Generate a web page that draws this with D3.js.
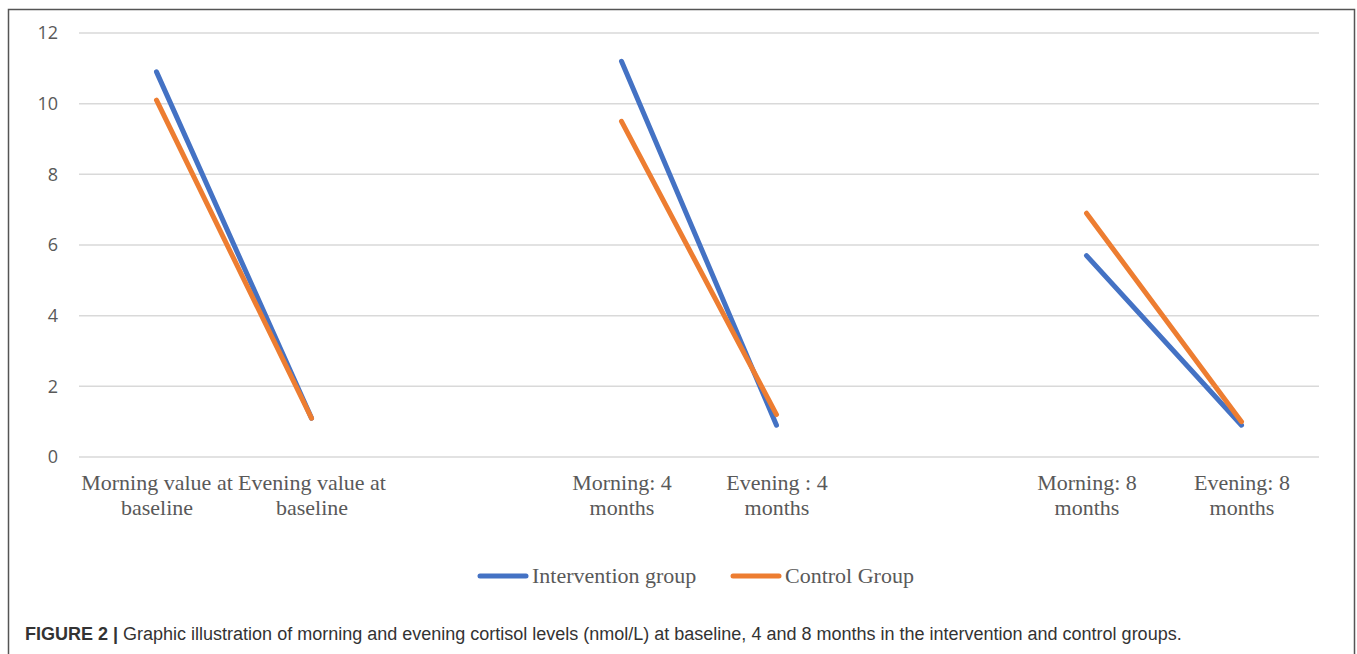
<!DOCTYPE html>
<html>
<head>
<meta charset="utf-8">
<script src="https://cdn.jsdelivr.net/npm/d3@7"></script>
<style>
  body { margin: 0; background: #fff; }
  svg { display: block; }
</style>
</head>
<body>
<svg id="chart"></svg>
<script>
// categories (blank slots keep the gaps between time points)
const categories = ["mb", "eb", "gap1", "m4", "e4", "gap2", "m8", "e8"];
const tickLabels = [
  ["Morning value at", "baseline"],
  ["Evening value at", "baseline"],
  [],
  ["Morning: 4", "months"],
  ["Evening : 4", "months"],
  [],
  ["Morning: 8", "months"],
  ["Evening: 8", "months"]
];
const intervention = [10.9, 1.1, null, 11.2, 0.9, null, 5.7, 0.9];
const control = [10.1, 1.1, null, 9.5, 1.2, null, 6.9, 1.0];
const seriesNames = ["Intervention group", "Control Group"];
const yTicks = [0, 2, 4, 6, 8, 10, 12];

const width = 1357, height = 654;
const margin = { top: 33, right: 38, bottom: 197, left: 79 };

const svg = d3.select("#chart")
    .attr("width", width)
    .attr("height", height);

// outer frame
svg.append("path")
    .attr("d", `M8.5,${height} V9.5 H1354.5 V${height}`)
    .attr("fill", "none")
    .attr("stroke", "#555")
    .attr("stroke-width", 1.5);

const x = d3.scalePoint()
    .domain(categories)
    .range([margin.left, width - margin.right])
    .padding(0.5);

const y = d3.scaleLinear()
    .domain([0, 12])
    .range([height - margin.bottom, margin.top]);

// gridlines
svg.append("g")
    .selectAll("line")
    .data(yTicks)
    .join("line")
    .attr("x1", margin.left)
    .attr("x2", width - margin.right)
    .attr("y1", d => y(d))
    .attr("y2", d => y(d))
    .attr("stroke", "#d9d9d9")
    .attr("stroke-width", 1.5);

// y axis labels
const yAxis = svg.append("g")
    .attr("transform", `translate(${margin.left - 21},0)`)
    .call(d3.axisLeft(y).tickValues(yTicks).tickSize(0).tickPadding(0));
yAxis.select(".domain").remove();
yAxis.selectAll("text")
    .style("font-family", "'Open Sans', 'Liberation Sans', sans-serif")
    .style("font-size", "18px")
    .attr("fill", "#595959");

// x axis labels
const xAxis = svg.append("g")
    .attr("transform", `translate(0,${y(0)})`)
    .call(d3.axisBottom(x).tickSize(0).tickFormat(""));
xAxis.select(".domain").remove();
xAxis.selectAll(".tick text").remove();
xAxis.selectAll(".tick")
    .append("text")
    .attr("text-anchor", "middle")
    .attr("fill", "#595959")
    .style("font-family", "'Liberation Serif', 'Times New Roman', serif")
    .style("font-size", "22px")
    .selectAll("tspan")
    .data((d, i) => tickLabels[i])
    .join("tspan")
    .attr("x", 0)
    .attr("y", (d, i) => 33 + i * 25)
    .text(d => d);

// lines
const colors = ["#4472C4", "#ED7D31"];
const line = d3.line()
    .defined(d => d.v != null)
    .x(d => x(d.c))
    .y(d => y(d.v));

[intervention, control].forEach((vals, k) => {
    svg.append("path")
        .datum(categories.map((c, i) => ({ c, v: vals[i] })))
        .attr("fill", "none")
        .attr("stroke", colors[k])
        .attr("stroke-width", 5)
        .attr("stroke-linecap", "round")
        .attr("stroke-linejoin", "round")
        .attr("d", line);
});

// legend
const legendX = [478, 731];
seriesNames.forEach((name, k) => {
    const g = svg.append("g").attr("transform", `translate(${legendX[k]},576)`);
    g.append("line")
        .attr("x1", 2).attr("x2", 48)
        .attr("stroke", colors[k])
        .attr("stroke-width", 5)
        .attr("stroke-linecap", "round");
    g.append("text")
        .attr("x", 54)
        .attr("y", 7)
        .attr("fill", "#595959")
        .style("font-family", "'Liberation Serif', 'Times New Roman', serif")
        .style("font-size", "22px")
        .text(name);
});

// caption
const cap = svg.append("text")
    .attr("x", 25)
    .attr("y", 640)
    .attr("fill", "#333")
    .style("font-family", "'Liberation Sans', Arial, sans-serif")
    .style("font-size", "18px");
cap.append("tspan")
    .style("font-weight", "bold")
    .text("FIGURE 2 | ");
cap.append("tspan")
    .text("Graphic illustration of morning and evening cortisol levels (nmol/L) at baseline, 4 and 8 months in the intervention and control groups.");
</script>
</body>
</html>
